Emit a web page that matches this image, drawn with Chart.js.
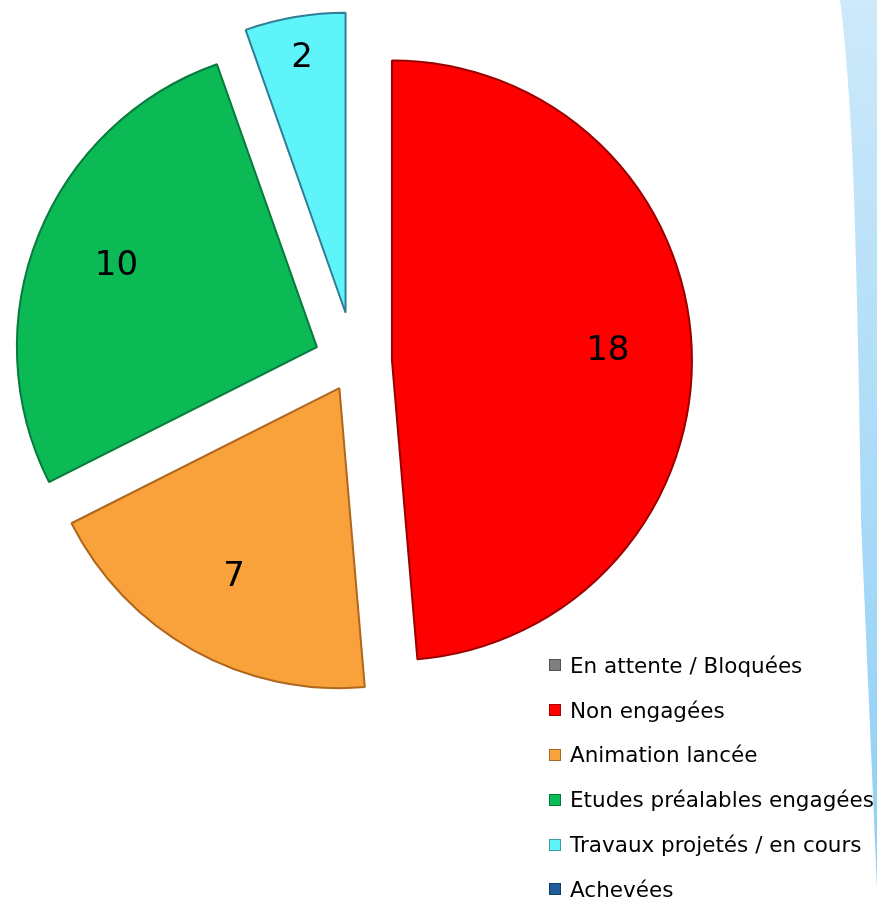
<!DOCTYPE html>
<html lang="fr">
<head>
<meta charset="utf-8">
<title>Avancement des opérations</title>
<script src="https://cdn.jsdelivr.net/npm/chart.js@4.4.1/dist/chart.umd.min.js"></script>
<style>
  html, body { margin: 0; padding: 0; background: #fff; }
  #wrap { position: relative; width: 877px; height: 898px; overflow: hidden; font-family: "DejaVu Sans", sans-serif; }
  #band, #pie { position: absolute; left: 0; top: 0; }
  #legend { position: absolute; left: 549px; top: 643px; }
  #legend .row { height: 44.8px; display: flex; align-items: center; font-size: 21.5px; color: #000; white-space: nowrap; }
  #legend .sq { width: 12px; height: 12px; margin-right: 9px; box-sizing: border-box; border: 1px solid rgba(0,0,0,0.35); }
</style>
</head>
<body>
<div id="wrap">
  <svg id="band" width="877" height="898">
    <defs>
      <linearGradient id="bandGrad" x1="0" y1="0" x2="0" y2="1">
        <stop offset="0" stop-color="#CDE9FA"/>
        <stop offset="1" stop-color="#8ECFF5"/>
      </linearGradient>
    </defs>
    <path d="M840 0 L877 0 L877 888 L861 520 Q858 300 853 170 Q848 60 840 0 Z" fill="url(#bandGrad)"/>
  </svg>
  <canvas id="pie" width="877" height="898"></canvas>
  <div id="legend"></div>
</div>
<script>
// ============================================================
// DATA
// ============================================================
const LABELS = [
  'En attente / Bloquées',
  'Non engagées',
  'Animation lancée',
  'Etudes préalables engagées',
  'Travaux projetés / en cours',
  'Achevées'
];
const VALUES = [0, 18, 7, 10, 2, 0];

// ============================================================
// STYLE
// ============================================================
const FILLS = ['#7F7F7F', '#FF0000', '#F9A23B', '#0BB955', '#5FF3FA', '#1F5C99'];
const EDGES = ['#4A4A4A', '#990000', '#B0661C', '#077A3C', '#2E7F95', '#123A66'];
const EXPLODE = [0, 38, 30, 40, 50, 0];   // px each slice is pulled out
const PIE_RADIUS = 300;

// Chart.js enlarges and narrows exploded arcs a little;
// undo that so each slice keeps its true radius and angle
const trueSlices = {
  id: 'trueSlices',
  afterDatasetUpdate(chart) {
    chart.getDatasetMeta(0).data.forEach((arc, i) => {
      const fix = 1 - Math.sin(Math.min(Math.PI, arc.circumference));
      const grow = EXPLODE[i] * fix;
      arc.outerRadius = PIE_RADIUS - grow;
      const narrow = grow / Math.PI / PIE_RADIUS / 2;
      if (arc.circumference > 0) {
        arc.startAngle -= narrow;
        arc.endAngle += narrow;
      }
    });
  }
};

// value written inside each slice
const sliceLabels = {
  id: 'sliceLabels',
  afterDatasetsDraw(chart) {
    const { ctx } = chart;
    ctx.save();
    ctx.font = '34px "DejaVu Sans", sans-serif';
    ctx.fillStyle = '#000';
    ctx.textAlign = 'center';
    ctx.textBaseline = 'middle';
    chart.getDatasetMeta(0).data.forEach((arc, i) => {
      if (!VALUES[i]) return;
      const mid = (arc.startAngle + arc.endAngle) / 2;
      const r = EXPLODE[i] + PIE_RADIUS * (arc.circumference < 0.5 ? 0.86 : 0.72);
      ctx.fillText(VALUES[i], arc.x + Math.cos(mid) * r, arc.y + Math.sin(mid) * r);
    });
    ctx.restore();
  }
};

new Chart(document.getElementById('pie'), {
  type: 'pie',
  data: {
    labels: LABELS,
    datasets: [{
      data: VALUES,
      backgroundColor: FILLS,
      borderColor: EDGES,
      borderWidth: 2,
      offset: EXPLODE.map(t => t * 4),
      hoverOffset: 0
    }]
  },
  options: {
    responsive: false,
    animation: false,
    radius: PIE_RADIUS,
    layout: { padding: { left: 0, top: 0, right: 169, bottom: 174 } },
    plugins: { legend: { display: false }, tooltip: { enabled: false } }
  },
  plugins: [trueSlices, sliceLabels]
});

// ============================================================
// LEGEND
// ============================================================
document.getElementById('legend').innerHTML = LABELS.map((label, i) => `
  <div class="row"><span class="sq" style="background:${FILLS[i]}"></span>${label}</div>
`).join('');
</script>
</body>
</html>
